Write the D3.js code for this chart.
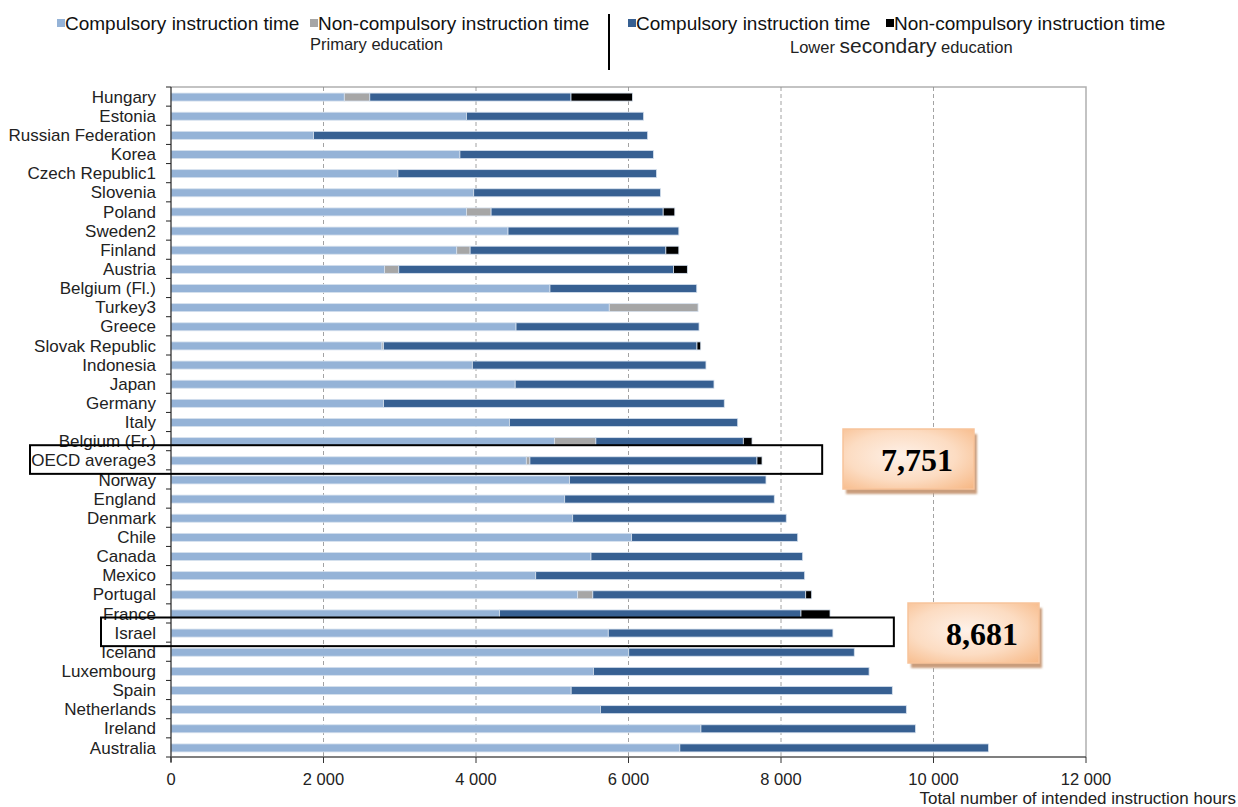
<!DOCTYPE html>
<html>
<head>
<meta charset="utf-8">
<script src="https://cdn.jsdelivr.net/npm/d3@7"></script>
<style>
  body { margin: 0; background: #fff; }
  svg text { font-family: "Liberation Sans", Arial, sans-serif; }
</style>
</head>
<body>
<svg id="chart" width="1238" height="807"></svg>
<script>
// Countries, top to bottom
var countries = ["Hungary", "Estonia", "Russian Federation", "Korea", "Czech Republic1", "Slovenia",
  "Poland", "Sweden2", "Finland", "Austria", "Belgium (Fl.)", "Turkey3", "Greece", "Slovak Republic",
  "Indonesia", "Japan", "Germany", "Italy", "Belgium (Fr.)", "OECD average3", "Norway", "England",
  "Denmark", "Chile", "Canada", "Mexico", "Portugal", "France", "Israel", "Iceland", "Luxembourg",
  "Spain", "Netherlands", "Ireland", "Australia"];

// Hours per segment
var primCompulsory = [2273, 3875, 1870, 3789, 2976, 3970, 3875, 4420, 3747, 2800, 4970, 5748, 4525, 2767,
  3952, 4514, 2788, 4438, 5028, 4660, 5227, 5163, 5268, 6041, 5508, 4783, 5333, 4309, 5735, 6003, 5540,
  5248, 5632, 6950, 6673];
var primNonCompulsory = [334, 0, 0, 0, 0, 0, 323, 0, 176, 187, 0, 1164, 0, 20,
  0, 0, 0, 0, 544, 47, 0, 0, 0, 0, 0, 0, 199, 0, 0, 0, 0,
  0, 0, 0, 0];
var lowSecCompulsory = [2639, 2323, 4381, 2538, 3392, 2451, 2257, 2240, 2567, 3603, 1925, 0, 2400, 4111,
  3064, 2607, 4468, 2994, 1934, 2978, 2576, 2749, 2801, 2178, 2776, 3527, 2792, 3953, 2946, 2958, 3615,
  4212, 4012, 2814, 4048];
var lowSecNonCompulsory = [806, 0, 0, 0, 0, 0, 152, 0, 170, 182, 0, 0, 0, 49,
  0, 0, 0, 0, 114, 66, 0, 0, 0, 0, 0, 0, 78, 381, 0, 0, 0,
  0, 0, 0, 0];

var seriesNames = ["Compulsory instruction time", "Non-compulsory instruction time",
  "Compulsory instruction time", "Non-compulsory instruction time"];
var seriesColors = ["#95b3d7", "#a6a6a6", "#376092", "#000000"];
var xTicks = [0, 2000, 4000, 6000, 8000, 10000, 12000];
var highlighted = ["OECD average3", "Israel"];

var svg = d3.select('#chart');

var x = d3.scaleLinear().domain([0, 12000]).range([171, 1086]);
var y = d3.scaleBand().domain(countries).range([87, 757]).padding(0);
var barH = 8;

// stack the four segments
var rows = countries.map(function(c, i) {
  return {country: c, values: [primCompulsory[i], primNonCompulsory[i], lowSecCompulsory[i], lowSecNonCompulsory[i]]};
});
var segs = [];
rows.forEach(function(r) {
  var start = 0;
  r.values.forEach(function(v, k) {
    if (v > 0) segs.push({country: r.country, k: k, x0: start, x1: start + v});
    start += v;
  });
  r.total = start;
});

// plot frame (top and right)
svg.append('path')
  .attr('d', `M${x(0)},${y.range()[0]}H${x(12000)}V${y.range()[1]}`)
  .attr('fill', 'none').attr('stroke', '#b0b0b0').attr('stroke-width', 1.5);

// gridlines
svg.append('g').selectAll('line')
  .data(xTicks.filter(function(t) { return t > 0 && t < 12000; }))
  .enter().append('line')
  .attr('x1', function(d) { return x(d); }).attr('x2', function(d) { return x(d); })
  .attr('y1', y.range()[0]).attr('y2', y.range()[1])
  .attr('stroke', '#8c8c8c').attr('stroke-dasharray', '4,3').attr('stroke-width', 0.8);

// bars
svg.append('g').selectAll('rect')
  .data(segs).enter().append('rect')
  .attr('x', function(d) { return x(d.x0); })
  .attr('width', function(d) { return x(d.x1) - x(d.x0); })
  .attr('y', function(d) { return y(d.country) + y.bandwidth() / 2 - barH / 2 + 0.5; })
  .attr('height', barH)
  .attr('fill', function(d) { return seriesColors[d.k]; })
  .attr('stroke', '#d6e1ee').attr('stroke-width', 0.8);

// y axis
var yAxis = svg.append('g');
yAxis.append('line')
  .attr('x1', x(0)).attr('x2', x(0))
  .attr('y1', y.range()[0]).attr('y2', y.range()[1] + 5)
  .attr('stroke', '#222').attr('stroke-width', 1.2);
yAxis.selectAll('.tick')
  .data(countries.concat(['end'])).enter().append('line')
  .attr('x1', x(0) - 5).attr('x2', x(0))
  .attr('y1', function(d, i) { return y.range()[0] + i * y.step(); })
  .attr('y2', function(d, i) { return y.range()[0] + i * y.step(); })
  .attr('stroke', '#222').attr('stroke-width', 1);
yAxis.selectAll('text')
  .data(countries).enter().append('text')
  .attr('x', 156)
  .attr('y', function(d) { return y(d) + y.bandwidth() / 2; })
  .attr('dy', '0.36em')
  .attr('text-anchor', 'end')
  .style('font-size', '17px').attr('fill', '#222')
  .text(function(d) { return d; });

// x axis
var xAxis = svg.append('g');
xAxis.append('line')
  .attr('x1', x(0)).attr('x2', x(12000))
  .attr('y1', y.range()[1]).attr('y2', y.range()[1])
  .attr('stroke', '#555').attr('stroke-width', 1.5);
xAxis.selectAll('.tk').data(xTicks).enter().append('line')
  .attr('x1', function(d) { return x(d); }).attr('x2', function(d) { return x(d); })
  .attr('y1', y.range()[1]).attr('y2', y.range()[1] + 6)
  .attr('stroke', '#333');
xAxis.selectAll('text').data(xTicks).enter().append('text')
  .attr('x', function(d) { return x(d); })
  .attr('y', 785)
  .attr('text-anchor', 'middle')
  .style('font-size', '16.5px').attr('fill', '#222')
  .text(function(d) { return d3.format(',')(d).replace(',', ' '); });
svg.append('text')
  .attr('x', 1236).attr('y', 804)
  .attr('text-anchor', 'end')
  .style('font-size', '17px').attr('fill', '#222')
  .text('Total  number of intended instruction hours');

// legend
var legendX = [57, 310, 628, 886];
var legend = svg.append('g').selectAll('g')
  .data(seriesNames).enter().append('g')
  .attr('transform', function(d, i) { return `translate(${legendX[i]},0)`; });
legend.append('rect')
  .attr('x', 0).attr('y', 19).attr('width', 8).attr('height', 8)
  .attr('fill', function(d, i) { return seriesColors[i]; });
legend.append('text')
  .attr('x', 8).attr('y', 30)
  .style('font-size', '19px').attr('fill', '#111')
  .text(function(d) { return d; });

svg.append('text')
  .attr('x', 310).attr('y', 50)
  .style('font-size', '16.5px').attr('fill', '#222')
  .text('Primary education');
var lower = svg.append('text')
  .attr('x', 790).attr('y', 53)
  .style('font-size', '16.5px').attr('fill', '#222');
lower.append('tspan').text('Lower ');
lower.append('tspan').style('font-size', '21px').text('secondary');
lower.append('tspan').text(' education');
svg.append('line')
  .attr('x1', 609).attr('x2', 609).attr('y1', 14).attr('y2', 70)
  .attr('stroke', '#000').attr('stroke-width', 2);

// highlight boxes and callouts
var defs = svg.append('defs');
var grad = defs.append('radialGradient').attr('id', 'peach').attr('cx', '45%').attr('cy', '45%').attr('r', '75%');
grad.append('stop').attr('offset', '0%').attr('stop-color', '#fef1e8');
grad.append('stop').attr('offset', '55%').attr('stop-color', '#fcdcc2');
grad.append('stop').attr('offset', '100%').attr('stop-color', '#f7b987');
var blur = defs.append('filter').attr('id', 'soft');
blur.append('feGaussianBlur').attr('stdDeviation', 1);

var boxLeft = {"OECD average3": 30, "Israel": 101};
var boxRight = {"OECD average3": 8540, "Israel": 9480};
var callout = {"OECD average3": [843, 429], "Israel": [908, 603]};

highlighted.forEach(function(c) {
  var r = rows.find(function(d) { return d.country === c; });
  svg.append('rect')
    .attr('x', boxLeft[c]).attr('y', y(c) - 5.5)
    .attr('width', x(boxRight[c]) - boxLeft[c]).attr('height', y.bandwidth() + 9.5)
    .attr('fill', 'none').attr('stroke', '#000').attr('stroke-width', 2);
  var p = callout[c];
  svg.append('rect')
    .attr('x', p[0] + 3).attr('y', p[1] + 5).attr('width', 131).attr('height', 60)
    .attr('fill', '#c99d7c').attr('filter', 'url(#soft)');
  svg.append('rect')
    .attr('x', p[0]).attr('y', p[1]).attr('width', 131).attr('height', 60)
    .attr('fill', 'url(#peach)').attr('stroke', '#f8c39a').attr('stroke-width', 1.5);
  svg.append('text')
    .attr('x', p[0] + 74).attr('y', p[1] + 42)
    .attr('text-anchor', 'middle')
    .style('font-family', '"Liberation Serif", "Times New Roman", serif')
    .style('font-weight', 'bold').style('font-size', '32px').attr('fill', '#000')
    .text(d3.format(',')(r.total));
});
</script>
</body>
</html>
